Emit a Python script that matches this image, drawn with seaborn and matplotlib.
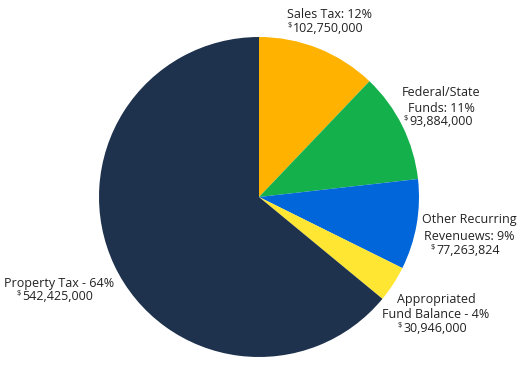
import matplotlib
matplotlib.use("Agg")
import matplotlib.pyplot as plt
import seaborn as sns

# Revenue sources (clockwise from 12 o'clock)
sources = ["Sales Tax", "Federal/State Funds", "Other Recurring Revenuews",
           "Appropriated Fund Balance", "Property Tax"]
amounts = [102750000, 93884000, 77263824, 30946000, 542425000]
colors = ["#FFB300", "#14B04C", "#0066D9", "#FFE633", "#1E324D"]

# label text lines, written as in the source
label_lines = [
    ["Sales Tax: {p}%"],
    ["Federal/State", "Funds: {p}%"],
    ["Other Recurring", "Revenuews: {p}%"],
    ["Appropriated", "Fund Balance - {p}%"],
    ["Property Tax - {p}%"],
]

sns.set_theme(style="white")
plt.rcParams["font.family"] = ["Open Sans", "DejaVu Sans"]

W, H = 525, 372
fig = plt.figure(figsize=(W / 100, H / 100), dpi=100)

# pie box in pixels: left 99, top 37, size 320
ax = fig.add_axes([99 / W, (H - 357) / H, 320 / W, 320 / H])
ax.pie(amounts, colors=colors, startangle=90, counterclock=False,
       radius=1, wedgeprops=dict(linewidth=0))
ax.set_xlim(-1, 1)
ax.set_ylim(-1, 1)
ax.axis("off")

total = sum(amounts)
pcts = [round(a / total * 100) for a in amounts]

# label anchor positions in pixels: (x, y of first line, align, dollar x)
anchors = [
    (287, 15, "left", 288),
    (441, 92, "center", 404),
    (469, 220, "center", 431),
    (436, 299, "center", 398),
    (4, 283, "left", 17),
]

fs = 9
line_h = 16
for lines, amt, p, (x, y, ha, dx) in zip(label_lines, amounts, pcts, anchors):
    for i, ln in enumerate(lines):
        fig.text(x / W, 1 - (y + i * line_h) / H, ln.format(p=p),
                 ha=ha, va="center", fontsize=fs, color="#222222")
    yy = y + len(lines) * line_h - 2
    fig.text(dx / W, 1 - (yy - 3) / H, "$", ha="left", va="center",
             fontsize=5.5, color="#222222")
    fig.text((dx + 5) / W, 1 - yy / H, f"{amt:,}", ha="left", va="center",
             fontsize=fs, color="#222222")

fig.savefig("out.png", dpi=100)
